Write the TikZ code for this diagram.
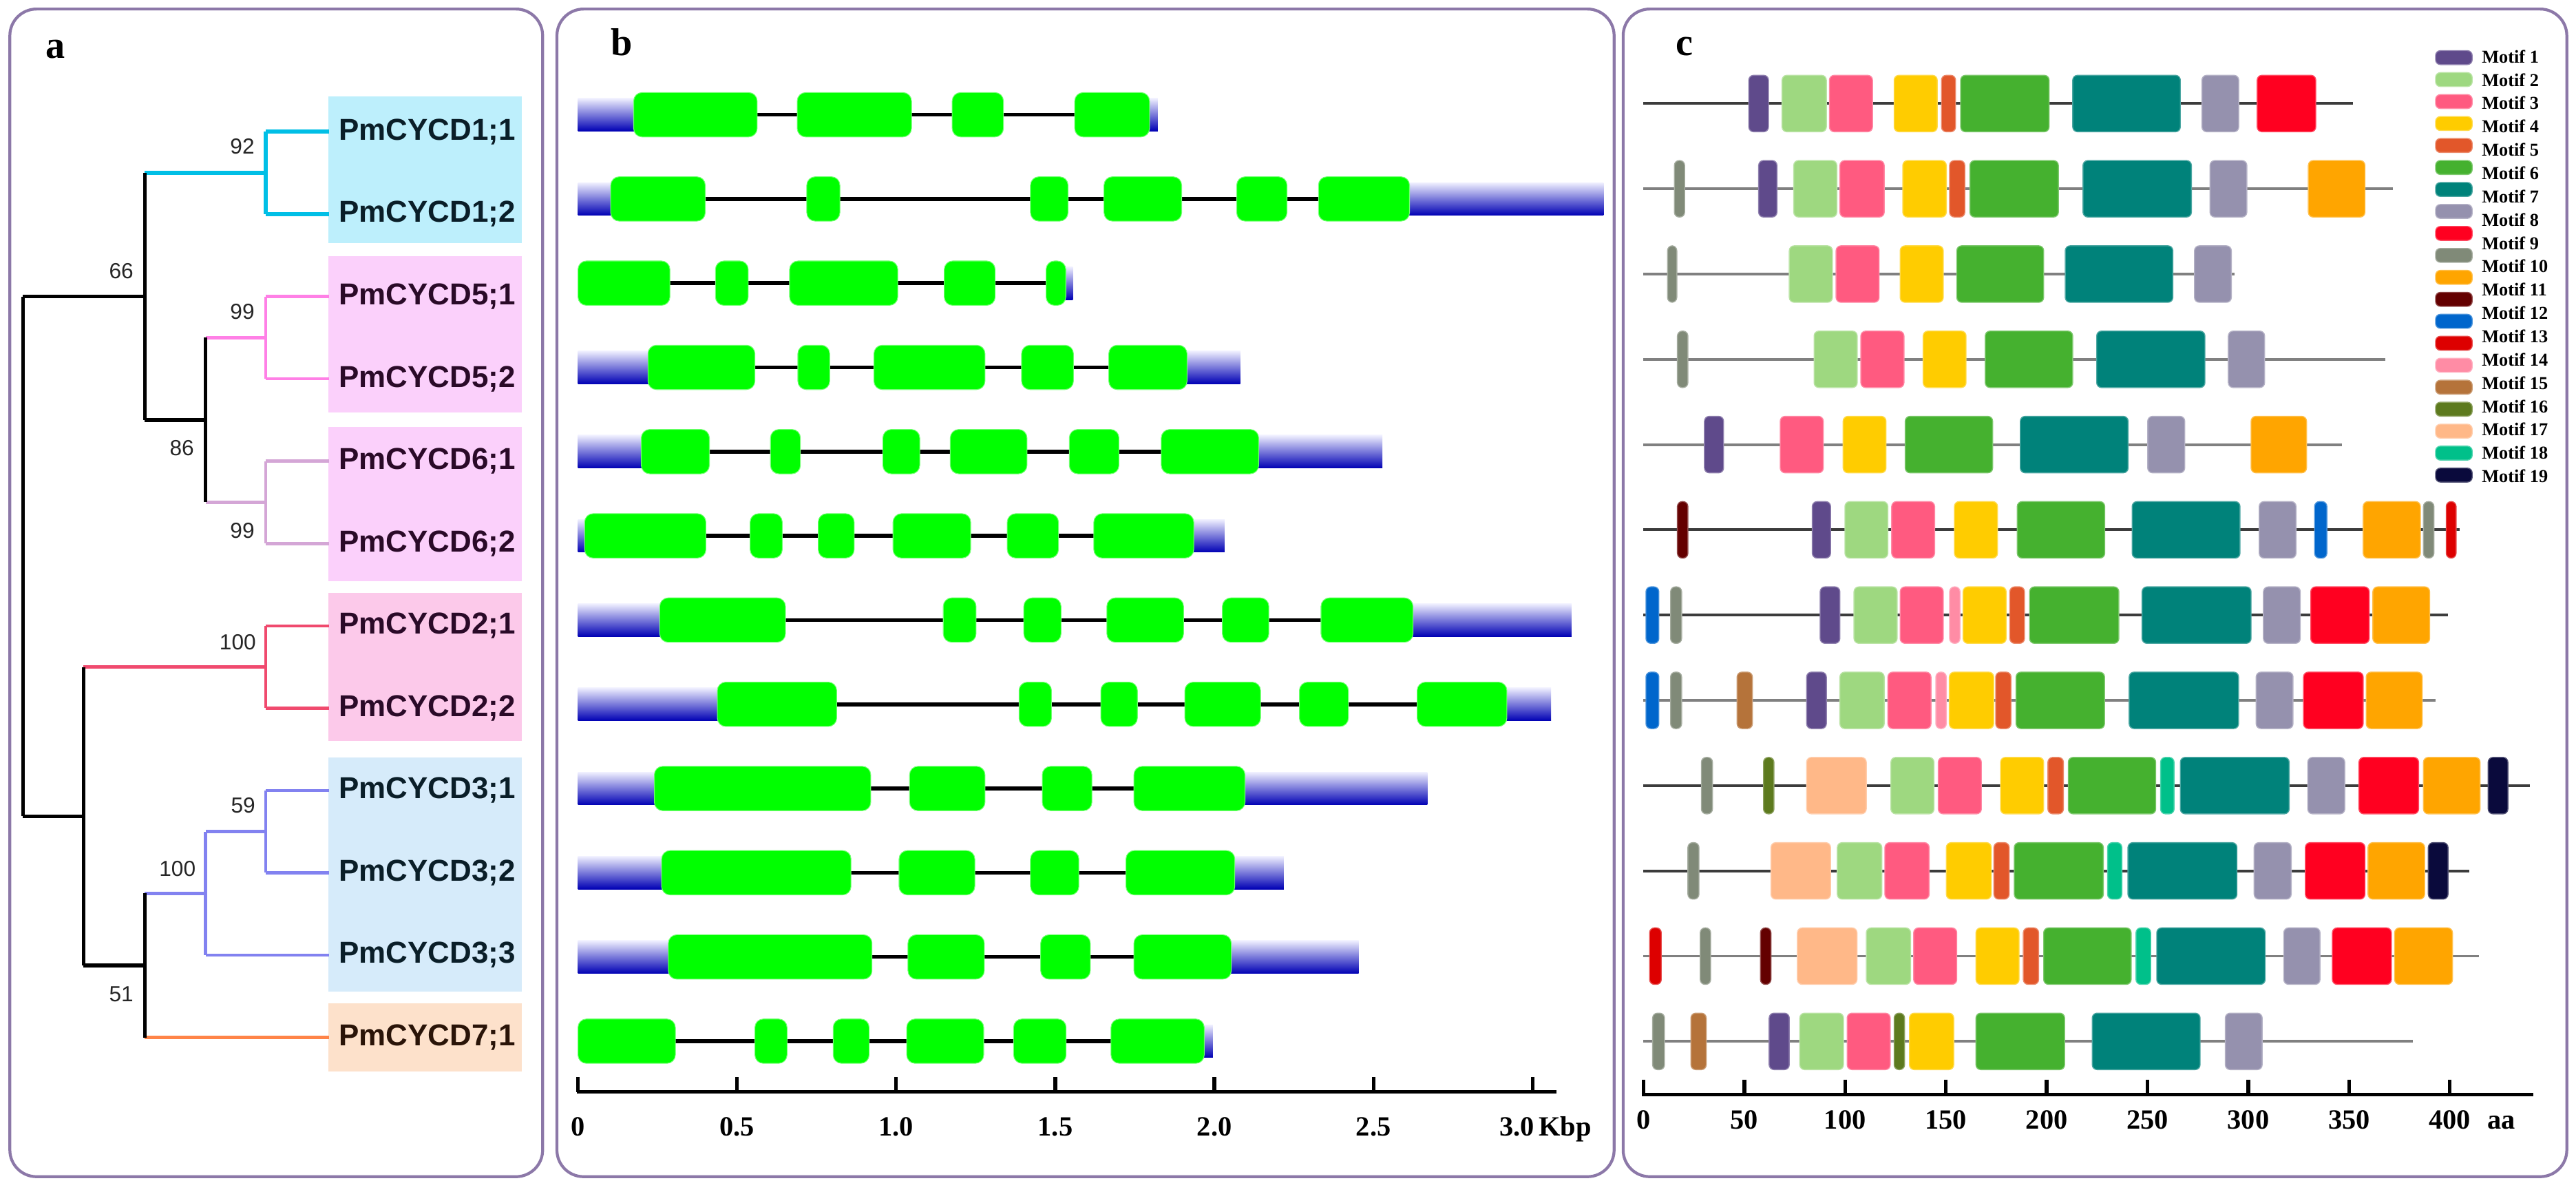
\documentclass[tikz,border=0pt]{standalone}
\usepackage{fontspec}
\setmainfont{Liberation Serif}
\setsansfont{Liberation Sans}

\definecolor{panelc}{RGB}{140,120,168}
\definecolor{brcyan}{RGB}{0,191,230}
\definecolor{brpink}{RGB}{255,128,230}
\definecolor{brlilac}{RGB}{212,166,214}
\definecolor{brred}{RGB}{240,74,110}
\definecolor{brblue}{RGB}{130,130,240}
\definecolor{brorange}{RGB}{255,132,72}
\definecolor{bxcyan}{RGB}{189,239,252}
\definecolor{bxpink}{RGB}{251,208,251}
\definecolor{bxrose}{RGB}{252,201,234}
\definecolor{bxblue}{RGB}{214,235,250}
\definecolor{bxpeach}{RGB}{253,225,203}
\definecolor{txcy}{RGB}{10,30,40}
\definecolor{txpk}{RGB}{42,10,40}
\definecolor{txpe}{RGB}{42,20,8}
\definecolor{exong}{RGB}{0,255,0}
\definecolor{utrtop}{RGB}{240,240,255}
\definecolor{utrbot}{RGB}{0,0,180}
\definecolor{rowd}{RGB}{60,60,60}
\definecolor{rowg}{RGB}{128,128,128}
\definecolor{m1}{RGB}{95,74,139}
\definecolor{m2}{RGB}{158,216,128}
\definecolor{m3}{RGB}{255,90,128}
\definecolor{m4}{RGB}{255,204,0}
\definecolor{m5}{RGB}{226,87,42}
\definecolor{m6}{RGB}{69,177,47}
\definecolor{m7}{RGB}{0,130,122}
\definecolor{m8}{RGB}{149,145,174}
\definecolor{m9}{RGB}{255,0,32}
\definecolor{m10}{RGB}{128,138,120}
\definecolor{m11}{RGB}{255,165,0}
\definecolor{m12}{RGB}{100,0,0}
\definecolor{m13}{RGB}{0,102,204}
\definecolor{m14}{RGB}{221,0,0}
\definecolor{m15}{RGB}{255,140,165}
\definecolor{m16}{RGB}{181,115,58}
\definecolor{m17}{RGB}{93,122,30}
\definecolor{m18}{RGB}{255,184,136}
\definecolor{m19}{RGB}{0,192,138}
\definecolor{m20}{RGB}{10,10,60}

\tikzset{
  panel/.style={draw=panelc, line width=1.2pt, rounded corners=11pt},
  plab/.style={font=\fontsize{16}{16}\selectfont\bfseries, anchor=base west, inner sep=0pt},
  leaf/.style={font=\sffamily\bfseries\fontsize{12.5}{14}\selectfont, anchor=west, inner sep=0pt},
  boot/.style={font=\sffamily\fontsize{9}{10}\selectfont, text=black!85, inner sep=0pt},
  br/.style={line width=1.3pt},
  blk/.style={br, draw=black, line width=1.5pt},
  exon/.style={fill=exong, draw=exong!55!white, line width=0.3pt, rounded corners=3.5pt},
  utr/.style={top color=utrtop, bottom color=utrbot},
  intron/.style={line width=1.6pt},
  motif/.style={rounded corners=2pt, line width=0.4pt},
  scaleline/.style={line width=1.5pt},
  scalelab/.style={font=\fontsize{11.5}{12}\selectfont\bfseries, anchor=base, inner sep=0pt},
  legtext/.style={font=\fontsize{7.5}{8}\selectfont\bfseries, anchor=west, inner sep=0pt}
}

\begin{document}
\begin{tikzpicture}[x=0.23865mm, y=-0.23865mm]
\useasboundingbox (0,0) rectangle (1568,725);
\fill[white] (0,0) rectangle (1568,725);

% panel frames
\draw[panel] (6,5.5) rectangle (330.3,716);
\draw[panel] (339,5.5) rectangle (982.5,716);
\draw[panel] (988,5.5) rectangle (1562.4,716);
\node[plab] (pa) at (27.4,35.6) {a};
\node[plab] (pb) at (371.5,33.7) {b};
\node[plab] (pc) at (1019.8,33.7) {c};

% ---- a: tree ----
\fill[bxcyan] (200,58.7) rectangle (317.5,148);
\fill[bxpink] (200,155.8) rectangle (317.5,251);
\fill[bxpink] (200,259.9) rectangle (317.5,353.7);
\fill[bxrose] (200,360.7) rectangle (317.5,450.8);
\fill[bxblue] (200,461) rectangle (317.5,603.4);
\fill[bxpeach] (200,610.4) rectangle (317.5,652);

\foreach \n/\y in {l11/80.2,l12/130.3,l51/180.4,l52/230.5,l61/280.6,l62/330.7,
                   l21/380.8,l22/430.9,l31/481,l32/531.1,l33/581.2,l71/631.3}
  \coordinate (\n) at (200.5,\y);

\coordinate (n92) at (161.8,105.25);
\coordinate (n99a) at (161.8,205.45);
\coordinate (n99b) at (161.8,305.65);
\coordinate (n86) at (125.1,255.55);
\coordinate (n66) at (88.1,180.4);
\coordinate (n100a) at (161.8,405.85);
\coordinate (n59) at (161.8,506.05);
\coordinate (n100b) at (125.1,543.6);
\coordinate (n51) at (88.1,587.45);
\coordinate (nlow) at (50.9,496.65);
\coordinate (root) at (13.9,338.5);

% horizontal branches
\draw[br, brcyan, line width=1.7pt] (n66 |- n92) -- (n92);
\draw[br, brcyan, line width=1.7pt] (n92 |- l11) -- (l11);
\draw[br, brcyan, line width=1.7pt] (n92 |- l12) -- (l12);
\draw[br, brpink] (n86 |- n99a) -- (n99a);
\draw[br, brpink] (n99a |- l51) -- (l51);
\draw[br, brpink] (n99a |- l52) -- (l52);
\draw[br, brlilac] (n86 |- n99b) -- (n99b);
\draw[br, brlilac] (n99b |- l61) -- (l61);
\draw[br, brlilac] (n99b |- l62) -- (l62);
\draw[br, brred] (nlow |- n100a) -- (n100a);
\draw[br, brred] (n100a |- l21) -- (l21);
\draw[br, brred] (n100a |- l22) -- (l22);
\draw[br, brblue] (n51 |- n100b) -- (n100b);
\draw[br, brblue] (n100b |- n59) -- (n59);
\draw[br, brblue] (n59 |- l31) -- (l31);
\draw[br, brblue] (n59 |- l32) -- (l32);
\draw[br, brblue] (n100b |- l33) -- (l33);
\draw[br, brorange] (n51 |- l71) -- (l71);
\draw[blk] (root |- n66) -- (n66);
\draw[blk] (root |- nlow) -- (nlow);
\draw[blk] (n66 |- n86) -- (n86);
\draw[blk] (nlow |- n51) -- (n51);
% vertical branches
\draw[br, brcyan, line width=1.7pt] (n92 |- l11) -- (n92 |- l12);
\draw[br, brpink] (n99a |- l51) -- (n99a |- l52);
\draw[br, brlilac] (n99b |- l61) -- (n99b |- l62);
\draw[br, brred] (n100a |- l21) -- (n100a |- l22);
\draw[br, brblue] (n59 |- l31) -- (n59 |- l32);
\draw[br, brblue] (n100b |- n59) -- (n100b |- l33);
\draw[blk] (root |- n66) -- (root |- nlow);
\draw[blk] (n66 |- n92) -- (n66 |- n86);
\draw[blk] (n86 |- n99a) -- (n86 |- n99b);
\draw[blk] (nlow |- n100a) -- (nlow |- n51);
\draw[blk] (n51 |- n100b) -- (n51 |- l71);

\node[boot] (b92) at (147.5,89.2) {92};
\node[boot] (b66) at (73.8,165) {66};
\node[boot] (b99a) at (147.5,189.6) {99};
\node[boot] (b86) at (110.7,272.8) {86};
\node[boot] (b99b) at (147.5,322.8) {99};
\node[boot] (b100a) at (144.7,390.7) {100};
\node[boot] (b59) at (148,490) {59};
\node[boot] (b100b) at (108,528.5) {100};
\node[boot] (b51) at (73.8,604.8) {51};

\node[leaf, text=txcy] (t11) at (206,80.2) {PmCYCD1;1};
\node[leaf, text=txcy] (t12) at (206,130.3) {PmCYCD1;2};
\node[leaf, text=txpk] (t51) at (206,180.4) {PmCYCD5;1};
\node[leaf, text=txpk] (t52) at (206,230.5) {PmCYCD5;2};
\node[leaf, text=txpk] (t61) at (206,280.6) {PmCYCD6;1};
\node[leaf, text=txpk] (t62) at (206,330.7) {PmCYCD6;2};
\node[leaf, text=txpk] (t21) at (206,380.8) {PmCYCD2;1};
\node[leaf, text=txpk] (t22) at (206,430.9) {PmCYCD2;2};
\node[leaf, text=txcy] (t31) at (206,481) {PmCYCD3;1};
\node[leaf, text=txcy] (t32) at (206,531.1) {PmCYCD3;2};
\node[leaf, text=txcy] (t33) at (206,581.2) {PmCYCD3;3};
\node[leaf, text=txpe] (t71) at (206,631.3) {PmCYCD7;1};

% ---- b: gene structures (x in kb) ----
\begin{scope}[xshift=83.957mm, x=46.226mm]
\foreach \len/\ia/\ib/\ex [count=\i] in {
  1.822/0.175/1.796/{0.175/0.563,0.689/1.048,1.176/1.337,1.561/1.796},
  3.223/0.103/2.613/{0.103/0.400,0.719/0.823,1.422/1.540,1.653/1.897,2.070/2.228,2.327/2.613},
  1.555/0/1.533/{0/0.289,0.432/0.535,0.665/1.005,1.151/1.311,1.471/1.533},
  2.081/0.220/1.914/{0.220/0.556,0.691/0.791,0.930/1.279,1.394/1.557,1.668/1.914},
  2.528/0.199/2.139/{0.199/0.413,0.605/0.699,0.958/1.074,1.170/1.411,1.544/1.700,1.833/2.139},
  2.032/0.021/1.935/{0.021/0.402,0.541/0.642,0.755/0.868,0.990/1.234,1.349/1.510,1.621/1.935},
  3.122/0.257/2.624/{0.257/0.652,1.148/1.251,1.401/1.518,1.662/1.903,2.025/2.171,2.335/2.624},
  3.058/0.438/2.919/{0.438/0.813,1.386/1.488,1.643/1.758,1.907/2.145,2.267/2.421,2.637/2.919},
  2.669/0.240/2.096/{0.240/0.920,1.042/1.279,1.459/1.615,1.747/2.096},
  2.218/0.263/2.064/{0.263/0.858,1.009/1.247,1.422/1.574,1.722/2.064},
  2.453/0.284/2.053/{0.284/0.924,1.037/1.277,1.454/1.610,1.747/2.053},
  1.995/0/1.968/{0/0.306,0.556/0.657,0.802/0.915,1.033/1.275,1.369/1.534,1.675/1.968}}
{
  \pgfmathsetmacro\yy{69.8+51.25*(\i-1)}
  \pgfmathtruncatemacro\hasl{\ia>0.01}
  \ifnum\hasl=1
    \shade[utr] (0,\yy-10) rectangle (\ia+0.01,\yy+10);
  \fi
  \shade[utr] (\ib-0.01,\yy-10) rectangle (\len,\yy+10);
  \draw[intron] (\ia,\yy) -- (\ib,\yy);
  \foreach \xa/\xb in \ex
    \filldraw[exon] (\xa,\yy-13.5) rectangle (\xb,\yy+13.5);
}
\draw[scaleline] (-0.004,664.5) -- (3.075,664.5);
\foreach \v [count=\k] in {0,0.5,1.0,1.5,2.0,2.5,3.0}
  \draw[scaleline] (\v,655.5) -- (\v,664.5);
\foreach \v [count=\k] in {0,0.5,1.0,1.5,2.0,2.5}
  \node[scalelab] (kb\k) at (\v,691) {\v};
\node[scalelab, anchor=base west] (kb7) at (2.894,691) {3.0\,Kbp};
\end{scope}

% ---- c: conserved motifs (x in aa) ----
\begin{scope}[xshift=238.745mm, x=0.29282mm]
\foreach \len/\lc/\mm [count=\i] in {
  351.8/rowd/{m1/52.2/62,m2/68.7/90.7,m3/92.2/113.6,m4/124.3/145.7,m5/147.8/154.8,m6/157.3/201.2,m7/212.9/266.3,m8/277/295.3,m9/304.4/333.5},
  371.7/rowg/{m10/15.3/20.4,m1/57.1/66.2,m2/74.5/95.9,m3/97.4/119.4,m4/128.6/150.2,m5/151.8/159.4,m6/161.9/205.8,m7/218/271.8,m8/281/299.3,m11/329.8/357.9},
  293.2/rowg/{m10/11.9/16.5,m2/72.3/93.7,m3/95.5/116.9,m4/127.3/148.7,m6/155.4/198.5,m7/209.2/262.6,m8/273.3/291.6},
  368/rowg/{m10/16.8/22,m2/84.6/106,m3/107.8/129.2,m4/138.7/160,m6/169.5/212.9,m7/224.8/278.5,m8/290.1/308.1},
  346.3/rowg/{m1/30.2/39.7,m3/67.8/89.2,m4/99/120.3,m6/129.8/173.2,m7/186.9/240.4,m8/250.1/268.5,m11/301.4/328.9},
  404.7/rowd/{m12/16.8/22,m1/83.7/92.8,m2/99.9/121.2,m3/123.1/144.4,m4/154.2/175.6,m6/185.4/228.8,m7/242.4/295.9,m8/305.4/323.7,m13/332.9/339,m11/357/385.4,m10/386.9/392.1,m14/398.2/403.1},
  399.2/rowd/{m13/1.2/7.6,m10/13.4/18.9,m1/87.6/97.4,m2/104.4/125.8,m3/127.3/148.7,m15/151.8/157,m4/158.5/179.9,m5/181.7/189,m6/191.5/235.8,m7/247.3/301.4,m8/307.5/325.8,m9/331/360,m11/361.8/390},
  393/rowg/{m13/1.2/7.6,m10/13.4/18.9,m16/46.4/54,m1/80.9/90.7,m2/97.4/119.4,m3/121.2/142.6,m15/145/150.2,m4/151.7/173.7,m5/174.7/182.3,m6/184.8/228.7,m7/240.9/295.2,m8/303.9/322.2,m9/327.4/357,m11/358.5/386.3},
  439.8/rowd/{m10/28.7/34.2,m17/59.5/64.7,m18/80.9/110.5,m2/122.7/144.1,m3/146.2/167.6,m4/177.1/198.5,m5/200.6/208.3,m6/210.7/254.1,m19/256.5/263.2,m7/266.3/320.3,m8/329.5/347.9,m9/354.9/384.5,m11/386.9/415,m20/419/428.8},
  409.8/rowd/{m10/22/27.5,m18/63.2/92.8,m2/96.1/118.2,m3/119.7/141.7,m4/150.2/172.5,m5/173.8/181.4,m6/183.9/228.1,m19/230.2/237.3,m7/240.3/294.4,m8/302.9/321.3,m9/328.3/357.9,m11/359.4/387.5,m20/389.3/399.1},
  414.4/rowg/{m14/3/8.8,m10/28.1/33.3,m12/58/63.2,m18/76.3/105.9,m2/110.5/132.5,m3/134/155.4,m4/164.9/186.3,m5/188.4/196,m6/198.5/241.9,m19/244.3/251.6,m7/254.6/308.4,m8/317.6/335.6,m9/341.7/371,m11/372.6/401.3},
  381.7/rowg/{m10/4.5/10.4,m16/23.5/31.1,m1/62.3/72.3,m2/77.5/99.2,m3/101/122.4,m17/124.3/129.5,m4/131.9/153.9,m6/164.9/208.9,m7/222.6/276.1,m8/288.6/306.9}}
{
  \pgfmathsetmacro\yy{63+51.88*(\i-1)}
  \draw[draw=\lc, line width=1.1pt] (0,\yy) -- (\len,\yy);
  \foreach \mc/\xa/\xb in \mm
    \filldraw[motif, fill=\mc, draw=\mc!70!white] (\xa,\yy-17.2) rectangle (\xb,\yy+17.2);
}
\draw[scaleline] (-1,666) -- (441.5,666);
\foreach \v [count=\k] in {0,50,...,400}
  \draw[scaleline] (\v,657) -- (\v,666);
\foreach \v [count=\k] in {0,50,...,400}
  \node[scalelab] (aa\k) at (\v,687) {\v};
\node[scalelab] (aaunit) at (425.5,687) {aa};
\end{scope}

% legend
\foreach \i in {1,...,20}{
  \pgfmathsetmacro\yy{35.06+13.37*(\i-1)}
  \filldraw[motif, fill=m\i, draw=m\i!70!white] (1482.5,\yy-4.25) rectangle (1504.8,\yy+4.25);
}
\foreach \i in {1,...,19}
  \node[legtext] (mot\i) at (1510.4,{34.35+14.19*(\i-1)}) {Motif \i};
\end{tikzpicture}
\end{document}
